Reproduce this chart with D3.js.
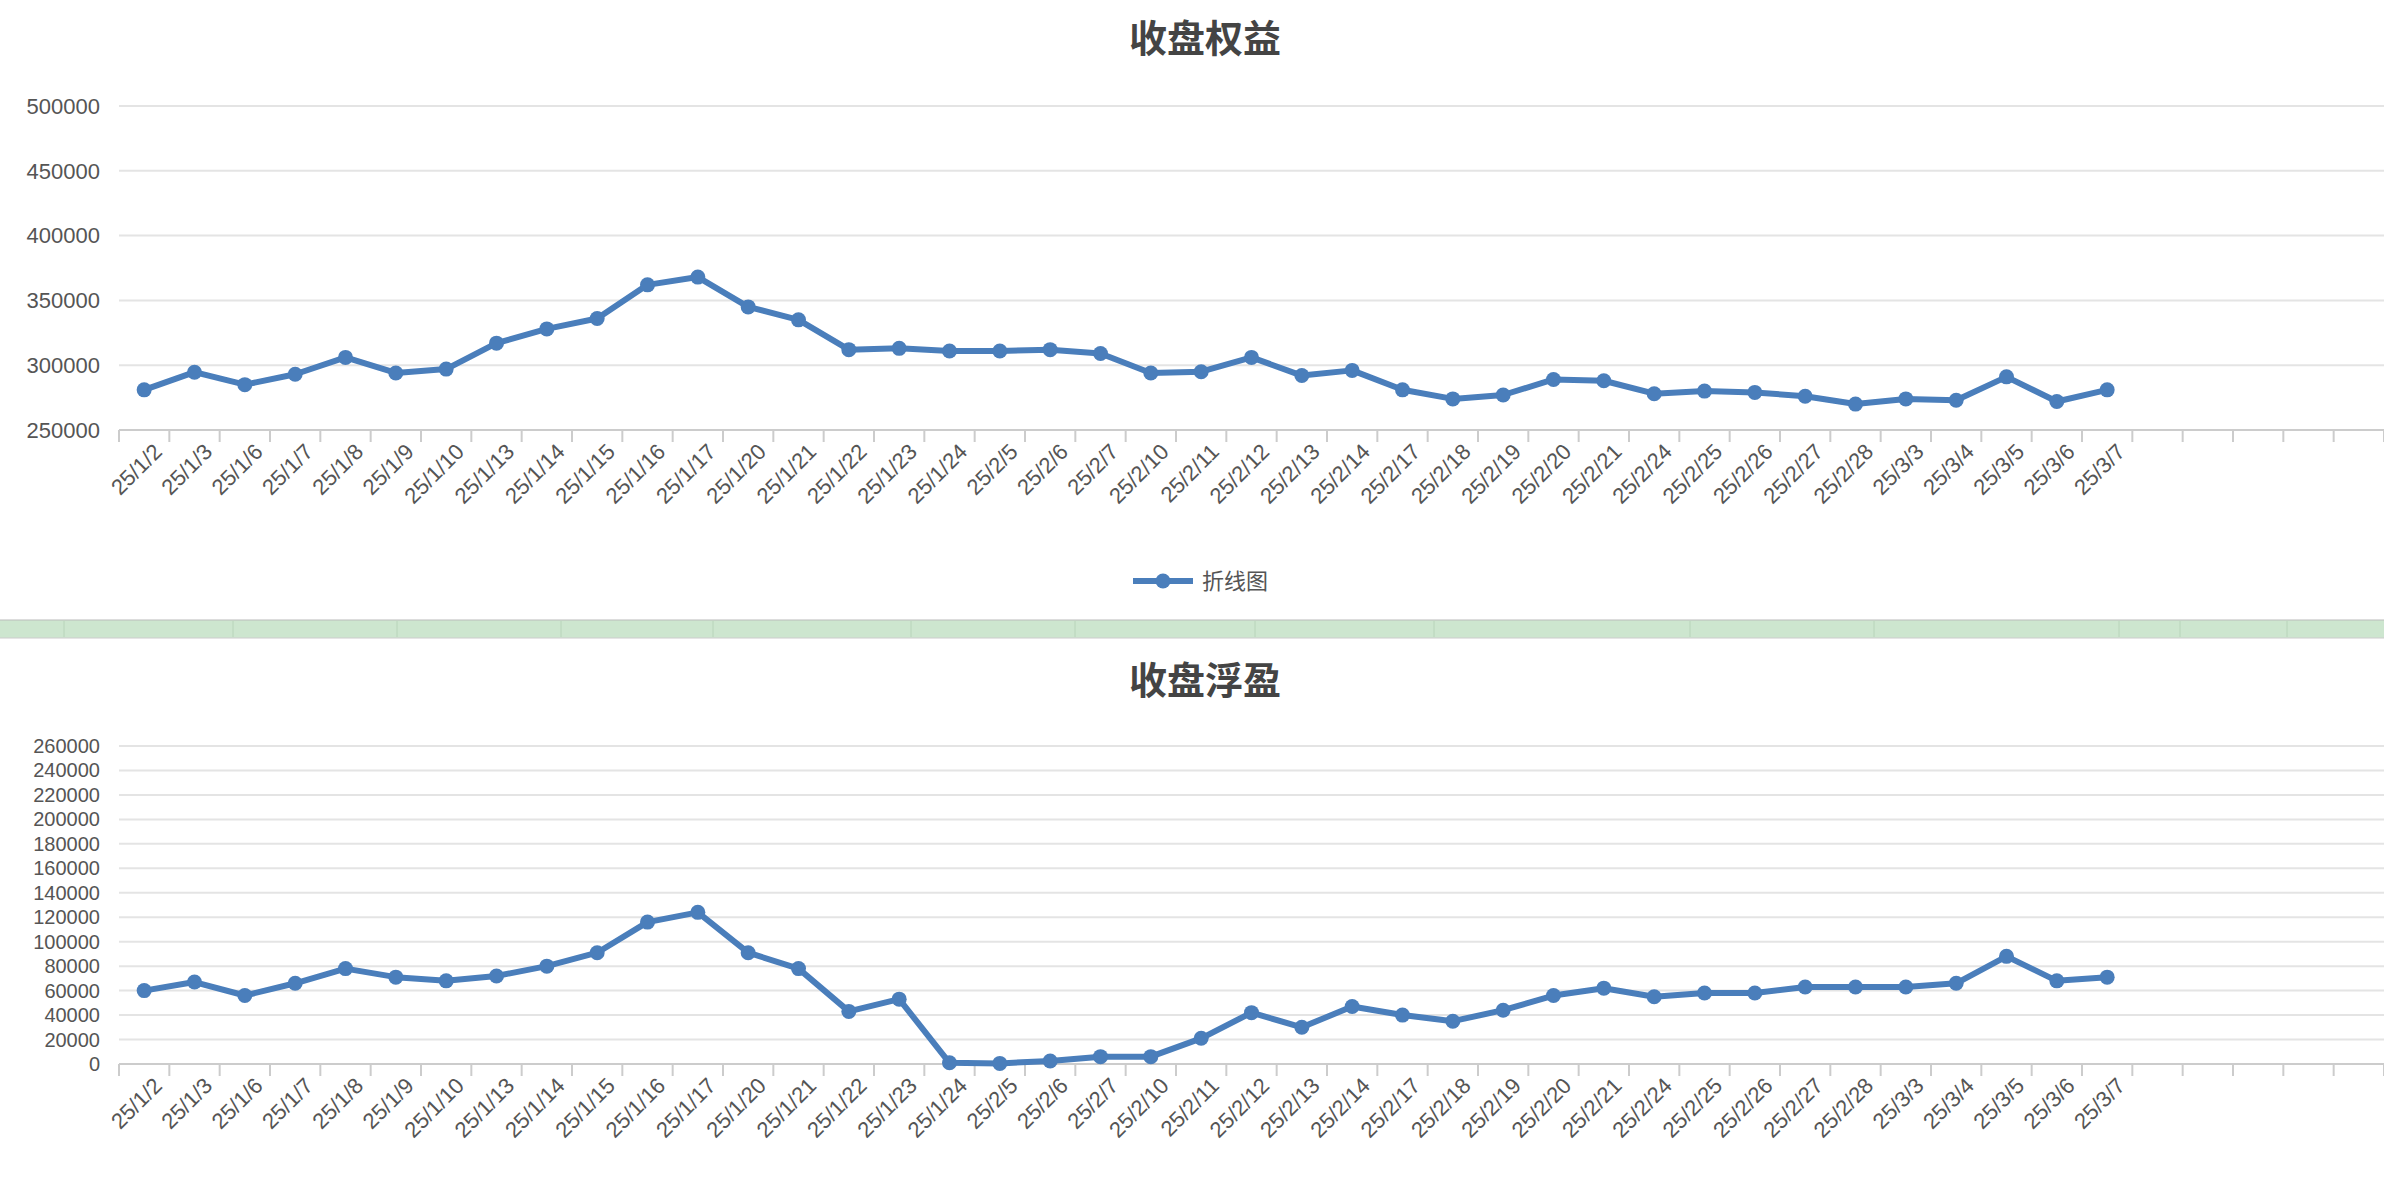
<!DOCTYPE html>
<html><head><meta charset="utf-8">
<script src="https://cdn.jsdelivr.net/npm/d3@7"></script>
<style>body{margin:0;background:#fff}svg{display:block}</style>
</head><body>
<script>
const dates = ["25/1/2","25/1/3","25/1/6","25/1/7","25/1/8","25/1/9","25/1/10","25/1/13","25/1/14","25/1/15","25/1/16","25/1/17","25/1/20","25/1/21","25/1/22","25/1/23","25/1/24","25/2/5","25/2/6","25/2/7","25/2/10","25/2/11","25/2/12","25/2/13","25/2/14","25/2/17","25/2/18","25/2/19","25/2/20","25/2/21","25/2/24","25/2/25","25/2/26","25/2/27","25/2/28","25/3/3","25/3/4","25/3/5","25/3/6","25/3/7"];
const equity = [281000,294600,285000,293000,306000,294000,297000,317000,328000,336000,362000,368000,345000,335000,312000,313000,311000,311000,312000,309000,294000,295000,306000,292000,296000,281000,274000,277000,289000,288000,278000,280000,279000,276000,270000,274000,273000,291000,272000,281000];
const floating = [60000,67000,56000,66000,78000,71000,68000,72000,80000,91000,116000,124000,91000,78000,43000,53000,1000,500,2500,6000,6000,21000,42000,30000,47000,40000,35000,44000,56000,62000,55000,58000,58000,63000,63000,63000,66000,88000,68000,71000];
const equityTicks = [250000,300000,350000,400000,450000,500000];
const floatTicks = d3.range(0,260001,20000);
const totalBands = 45;

const W=2384,H=1182,color="#4a7ebb";
const svg=d3.select("body").append("svg").attr("width",W).attr("height",H);
const slots=d3.range(totalBands).map(i=>i<dates.length?dates[i]:"_"+i);

function chart(title,titleY,data,ticks,yTop,yBot,fs){
  const x=d3.scaleBand().domain(slots).range([119,2384]);
  const y=d3.scaleLinear().domain([ticks[0],ticks[ticks.length-1]]).range([yBot,yTop]);
  const g=svg.append("g");
  g.append("text").attr("x",1205).attr("y",titleY).attr("text-anchor","middle")
   .attr("font-family","Noto Sans CJK SC").attr("font-weight","bold").attr("font-size",38).attr("fill","#444").text(title);
  g.selectAll(".gl").data(ticks).join("line").attr("x1",119).attr("x2",2384)
   .attr("y1",d=>y(d)).attr("y2",d=>y(d)).attr("stroke",(d,i)=>i==0?"#ccc":"#e4e4e4").attr("stroke-width",2);
  g.selectAll(".yl").data(ticks).join("text").attr("x",100).attr("y",d=>y(d)).attr("dy","0.35em")
   .attr("text-anchor","end").attr("font-family","Liberation Sans, Arial").attr("font-size",fs).attr("fill","#555").text(d=>d);
  const ax=g.append("g").attr("transform",`translate(0,${yBot})`)
   .call(d3.axisBottom(x).tickSize(0).tickFormat(d=>d.startsWith("_")?"":d));
  ax.select(".domain").remove();
  ax.selectAll("text").attr("font-family","Liberation Sans, Arial").attr("font-size",22).attr("fill","#555")
   .attr("text-anchor","end").attr("transform","translate(0,10) rotate(-45)").attr("dx","0.2em").attr("dy","0.9em");
  g.selectAll(".tk").data(d3.range(totalBands+1)).join("line")
   .attr("x1",i=>119+i*x.step()).attr("x2",i=>119+i*x.step()).attr("y1",yBot).attr("y2",yBot+12)
   .attr("stroke","#ccc").attr("stroke-width",2);
  const cx=(d,i)=>x(dates[i])+x.bandwidth()/2;
  g.append("path").datum(data).attr("fill","none").attr("stroke",color).attr("stroke-width",6).attr("stroke-linejoin","round")
   .attr("d",d3.line().x(cx).y(d=>y(d)));
  g.selectAll("circle").data(data).join("circle").attr("cx",cx).attr("cy",d=>y(d)).attr("r",7.5).attr("fill",color);
}
chart("收盘权益",52,equity,equityTicks,106,430,22);
chart("收盘浮盈",694,floating,floatTicks,746,1064,20);

// legend
const lg=svg.append("g");
lg.append("line").attr("x1",1133).attr("x2",1193).attr("y1",581).attr("y2",581).attr("stroke",color).attr("stroke-width",6);
lg.append("circle").attr("cx",1163).attr("cy",581).attr("r",7.5).attr("fill",color);
lg.append("text").attr("x",1202).attr("y",581).attr("dy","0.35em").attr("font-family","Noto Sans CJK SC")
  .attr("font-size",22).attr("fill","#555").text("折线图");

// green separator bar
svg.append("rect").attr("x",0).attr("y",620).attr("width",W).attr("height",18).attr("fill","#cde6cf");
svg.append("line").attr("x1",0).attr("x2",W).attr("y1",620).attr("y2",620).attr("stroke","#bbb");
svg.append("line").attr("x1",0).attr("x2",W).attr("y1",638).attr("y2",638).attr("stroke","#ccc");
const seps=[64,233,397,561,713,911,1075,1255,1434,1690,1874,2119,2180,2287];
svg.selectAll(".sep").data(seps).join("line").attr("x1",d=>d).attr("x2",d=>d).attr("y1",621).attr("y2",637).attr("stroke","#b8d4ba");
</script>
</body></html>
